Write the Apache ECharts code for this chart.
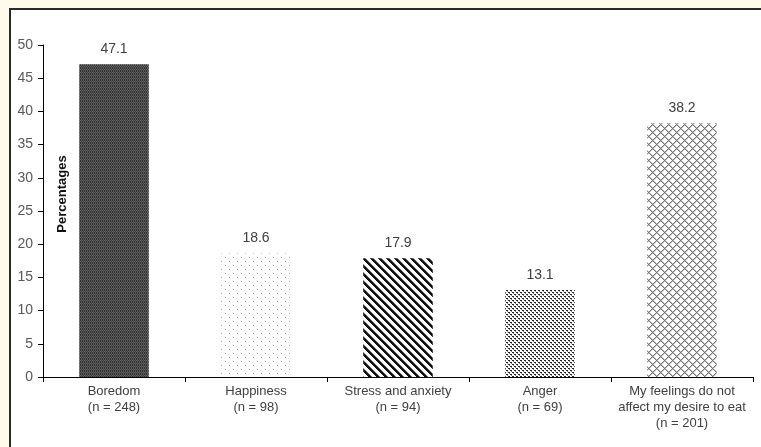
<!DOCTYPE html>
<html>
<head>
<meta charset="utf-8">
<script src="https://cdn.jsdelivr.net/npm/echarts@6/dist/echarts.min.js"></script>
<style>
  html, body { margin: 0; padding: 0; background: #fffbea; }
  #panel {
    position: absolute; left: 9px; top: 8px; width: 780px; height: 470px;
    background: #ffffff; border-top: 2px solid #2a2a2a; border-left: 2px solid #2a2a2a;
    box-sizing: border-box;
  }
  #chart { position: absolute; left: 0; top: 0; width: 761px; height: 447px; }
</style>
</head>
<body>
<div id="panel"></div>
<div id="chart"></div>
<script>
// Emotions that influence the desire to eat
const categories = ['Boredom', 'Happiness', 'Stress and anxiety', 'Anger', 'My feelings do not\naffect my desire to eat'];
const counts = [248, 98, 94, 69, 201];
const percentages = [47.1, 18.6, 17.9, 13.1, 38.2];
const yTicks = { min: 0, max: 50, interval: 5 };

// Build a repeating canvas fill from a per-pixel painter
function makePattern(size, paint) {
  const c = document.createElement('canvas');
  c.width = size; c.height = size;
  const ctx = c.getContext('2d');
  ctx.fillStyle = '#ffffff';
  ctx.fillRect(0, 0, size, size);
  for (let y = 0; y < size; y++) {
    for (let x = 0; x < size; x++) {
      const col = paint(x, y);
      if (col) { ctx.fillStyle = col; ctx.fillRect(x, y, 1, 1); }
    }
  }
  return { image: c, repeat: 'repeat' };
}

const fills = [
  // dense dark weave (fine vertical threads)
  makePattern(6, (x, y) => {
    if (y === 0 || y === 3) return x % 2 === 0 ? '#6a6a6a' : '#3c3c3c';
    return x % 2 === 0 ? '#2f2f2f' : '#5a5a5a';
  }),
  // sparse dots
  makePattern(8, (x, y) => ((x === 1 && y === 1) || (x === 5 && y === 5) ? '#9a9a9a' : null)),
  // wide downward diagonal stripes
  makePattern(8, (x, y) => {
    const d = (x - y + 16) % 8;
    if (d < 3) return '#111111';
    if (d === 3) return '#777777';
    return null;
  }),
  // small staggered dashes
  makePattern(4, (x, y) => {
    if ((y === 0 && x < 2) || (y === 2 && x >= 2)) return '#222222';
    if ((y === 1 && x === 1) || (y === 3 && x === 3)) return '#8a8a8a';
    return null;
  }),
  // diagonal cross-hatch
  makePattern(8, (x, y) => {
    const a = (x + y) % 8, b = (x - y + 8) % 8;
    if (a === 0 || b === 0) return '#707070';
    if (a === 1 || b === 1) return '#c4c4c4';
    return null;
  })
];

const axisLabels = categories.map((c, i) => c + '\n(n = ' + counts[i] + ')');

const chart = echarts.init(document.getElementById('chart'), null, { renderer: 'canvas' });
chart.setOption({
  backgroundColor: 'transparent',
  animation: false,
  textStyle: { fontFamily: 'Liberation Sans, Arial, sans-serif' },
  grid: { left: 43, right: 8, top: 45, bottom: 70, containLabel: false },
  xAxis: {
    type: 'category',
    data: axisLabels,
    boundaryGap: true,
    axisLine: { lineStyle: { color: '#000000', width: 1 } },
    axisTick: { show: true, alignWithLabel: false, length: 5, lineStyle: { color: '#000000' } },
    axisLabel: { color: '#404040', fontSize: 13, lineHeight: 16, margin: 6, interval: 0 }
  },
  yAxis: {
    type: 'value',
    min: yTicks.min, max: yTicks.max, interval: yTicks.interval,
    splitLine: { show: false },
    axisLine: { show: true, lineStyle: { color: '#000000', width: 1 } },
    axisTick: { show: true, length: 5, lineStyle: { color: '#000000' } },
    axisLabel: { color: '#595959', fontSize: 14, margin: 10 }
  },
  graphic: [{
    type: 'text',
    x: 62, y: 194,
    rotation: Math.PI / 2,
    style: {
      text: 'Percentages', fill: '#111111',
      font: 'bold 13px Liberation Sans, Arial, sans-serif',
      align: 'center', verticalAlign: 'middle'
    }
  }],
  series: [{
    type: 'bar',
    barWidth: '49%',
    data: percentages.map((v, i) => ({ value: v, itemStyle: { color: fills[i] } })),
    label: {
      show: true, position: 'top', distance: 8,
      color: '#404040', fontSize: 14,
      formatter: p => p.value.toFixed(1)
    }
  }]
});
</script>
</body>
</html>
